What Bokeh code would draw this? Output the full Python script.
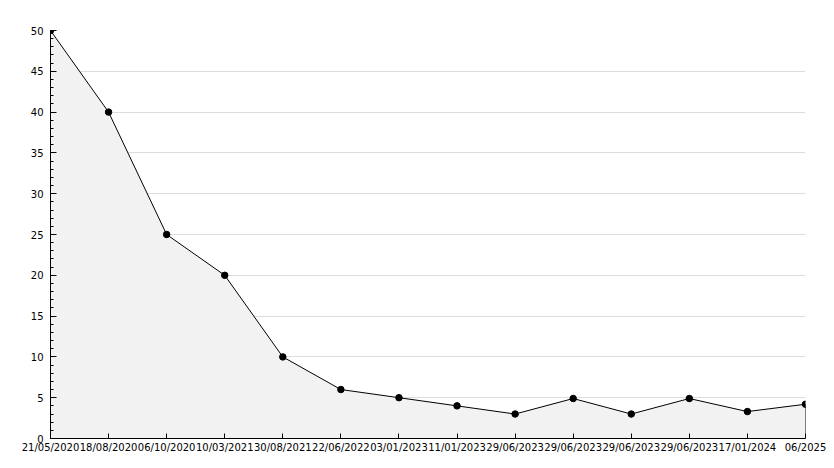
from bokeh.plotting import figure
from bokeh.models import FixedTicker, Range1d
from bokeh.embed import file_html
from bokeh.resources import INLINE

dates = ["21/05/2020", "18/08/2020", "06/10/2020", "10/03/2021", "30/08/2021",
         "22/06/2022", "03/01/2023", "11/01/2023", "29/06/2023", "29/06/2023",
         "29/06/2023", "29/06/2023", "17/01/2024", "06/2025"]
values = [50, 40, 25, 20, 10, 6, 5, 4, 3, 4.9, 3, 4.9, 3.3, 4.2]
y_ticks = [0, 5, 10, 15, 20, 25, 30, 35, 40, 45, 50]

xs = list(range(len(dates)))

p = figure(width=826, height=460, output_backend="svg", toolbar_location=None,
           x_range=Range1d(0, len(dates) - 1), y_range=Range1d(0, 50),
           min_border_left=50, min_border_right=21, min_border_top=30, min_border_bottom=22)
p.outline_line_color = None
p.background_fill_color = "white"
p.border_fill_color = "white"

p.varea(x=xs, y1=[0] * len(xs), y2=values, fill_color="#f2f2f2")
p.line(xs, values, line_color="black", line_width=1)
p.segment(x0=[xs[-1]], y0=[0], x1=[xs[-1]], y1=[values[-1]], line_color="black", line_width=1)
p.scatter(xs, values, size=6.5, marker="circle", fill_color="black", line_color="black")

p.xgrid.visible = False
p.ygrid.grid_line_color = "#dddddd"
p.ygrid.ticker = FixedTicker(ticks=y_ticks)

p.xaxis.ticker = FixedTicker(ticks=xs)
p.xaxis.major_label_overrides = {i: d for i, d in enumerate(dates)}
p.xaxis.major_tick_in = 5
p.xaxis.major_tick_out = 0
p.xaxis.minor_tick_line_color = None
p.xaxis.major_label_standoff = 3

p.yaxis.ticker = FixedTicker(ticks=y_ticks, minor_ticks=list(range(0, 51)))
p.yaxis.major_tick_in = 6
p.yaxis.major_tick_out = 0
p.yaxis.minor_tick_in = 3
p.yaxis.minor_tick_out = 0
p.yaxis.major_label_standoff = 7

for ax in (p.xaxis, p.yaxis):
    ax.axis_line_color = "black"
    ax.major_tick_line_color = "black"
    ax.major_label_text_font = "DejaVu Sans"
    ax.major_label_text_font_size = "10px"
    ax.major_label_text_color = "black"
p.yaxis.minor_tick_line_color = "black"

open("out.html", "w").write(file_html(p, INLINE))
